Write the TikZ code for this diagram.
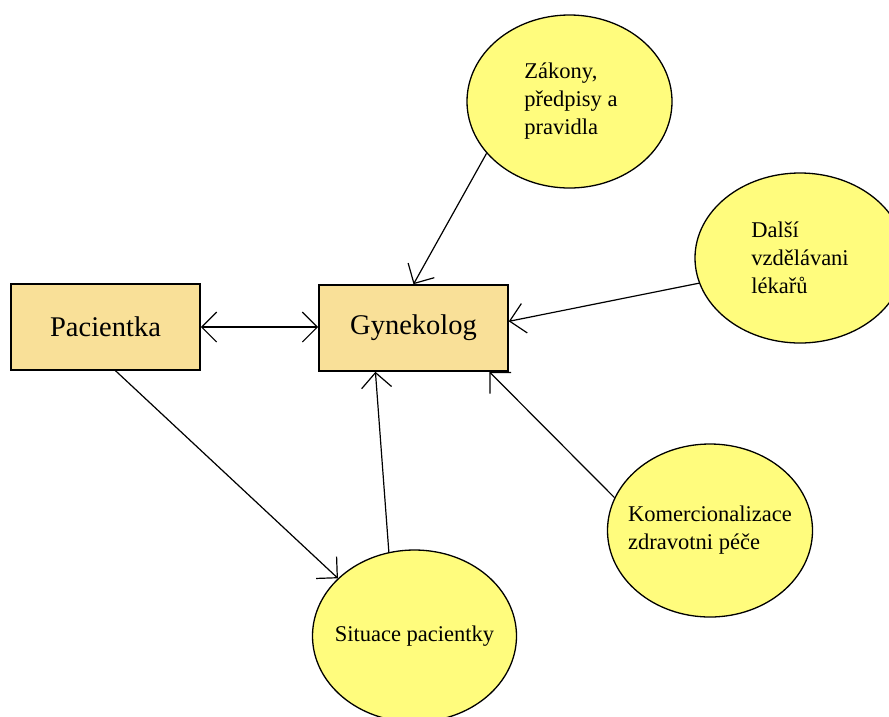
\documentclass[tikz,border=0pt]{standalone}
\usepackage{fontspec}
\setmainfont{Liberation Serif}
\usetikzlibrary{shapes.geometric,arrows.meta,positioning}

\definecolor{boxfill}{RGB}{249,224,152}
\definecolor{ballfill}{RGB}{255,252,125}

\begin{document}
\begin{tikzpicture}[x=1pt,y=-1pt,
		box/.style={draw,line width=1.6pt,fill=boxfill,minimum width=189pt,minimum height=86pt,inner sep=0pt,font=\fontsize{28.5}{34}\selectfont},
		ball/.style={draw,line width=1.3pt,fill=ballfill,ellipse,inner sep=0pt},
		balltext/.style={align=left,inner sep=0pt,font=\fontsize{22.5}{28}\selectfont},
		link/.style={line width=1.2pt,-{Straight Barb[length=15pt,width=30pt,line width=1.2pt]}}]
		\clip (0,0) rectangle (889,716);
		\fill[white] (0,0) rectangle (889,716);
		% the two boxes
		\node[box] (pac) at (105.5,327) {Pacientka};
		\node[box] (gyn) at (413.5,328) {Gynekolog};
		% influences
		\node[ball,minimum width=205pt,minimum height=173pt] (zak) at (569.5,101.5) {};
		\node[ball,minimum width=210pt,minimum height=170pt] (dal) at (800,258) {};
		\node[ball,minimum width=205pt,minimum height=173pt] (kom) at (710,530.5) {};
		\node[ball,minimum width=204pt,minimum height=172pt] (sit) at (414.5,636) {};
		\node[balltext] (zaktext) at (571,101) {Zákony,\\předpisy a\\pravidla};
		\node[balltext] (daltext) at (dal) {Další\\vzdělávani\\lékařů};
		\node[balltext] (komtext) at (kom) {Komercionalizace\\zdravotni péče};
		\node[balltext] (sittext) at (sit) {Situace pacientky};
		% arrows
		\draw[link,{Straight Barb[length=15pt,width=30pt,line width=1.2pt]}-{Straight Barb[length=15pt,width=30pt,line width=1.2pt]}] (pac.east) -- (pac.east -| gyn.west);
		\draw[link] (zak.212) -- (gyn.north);
		\draw[link] (dal.194) -- (gyn.4);
		\draw[link] (kom.161) -- (gyn.330);
		\draw[link] (sit.107) -- (gyn.229);
		\draw[link] (pac.283) -- (sit.143);
\end{tikzpicture}
\end{document}
